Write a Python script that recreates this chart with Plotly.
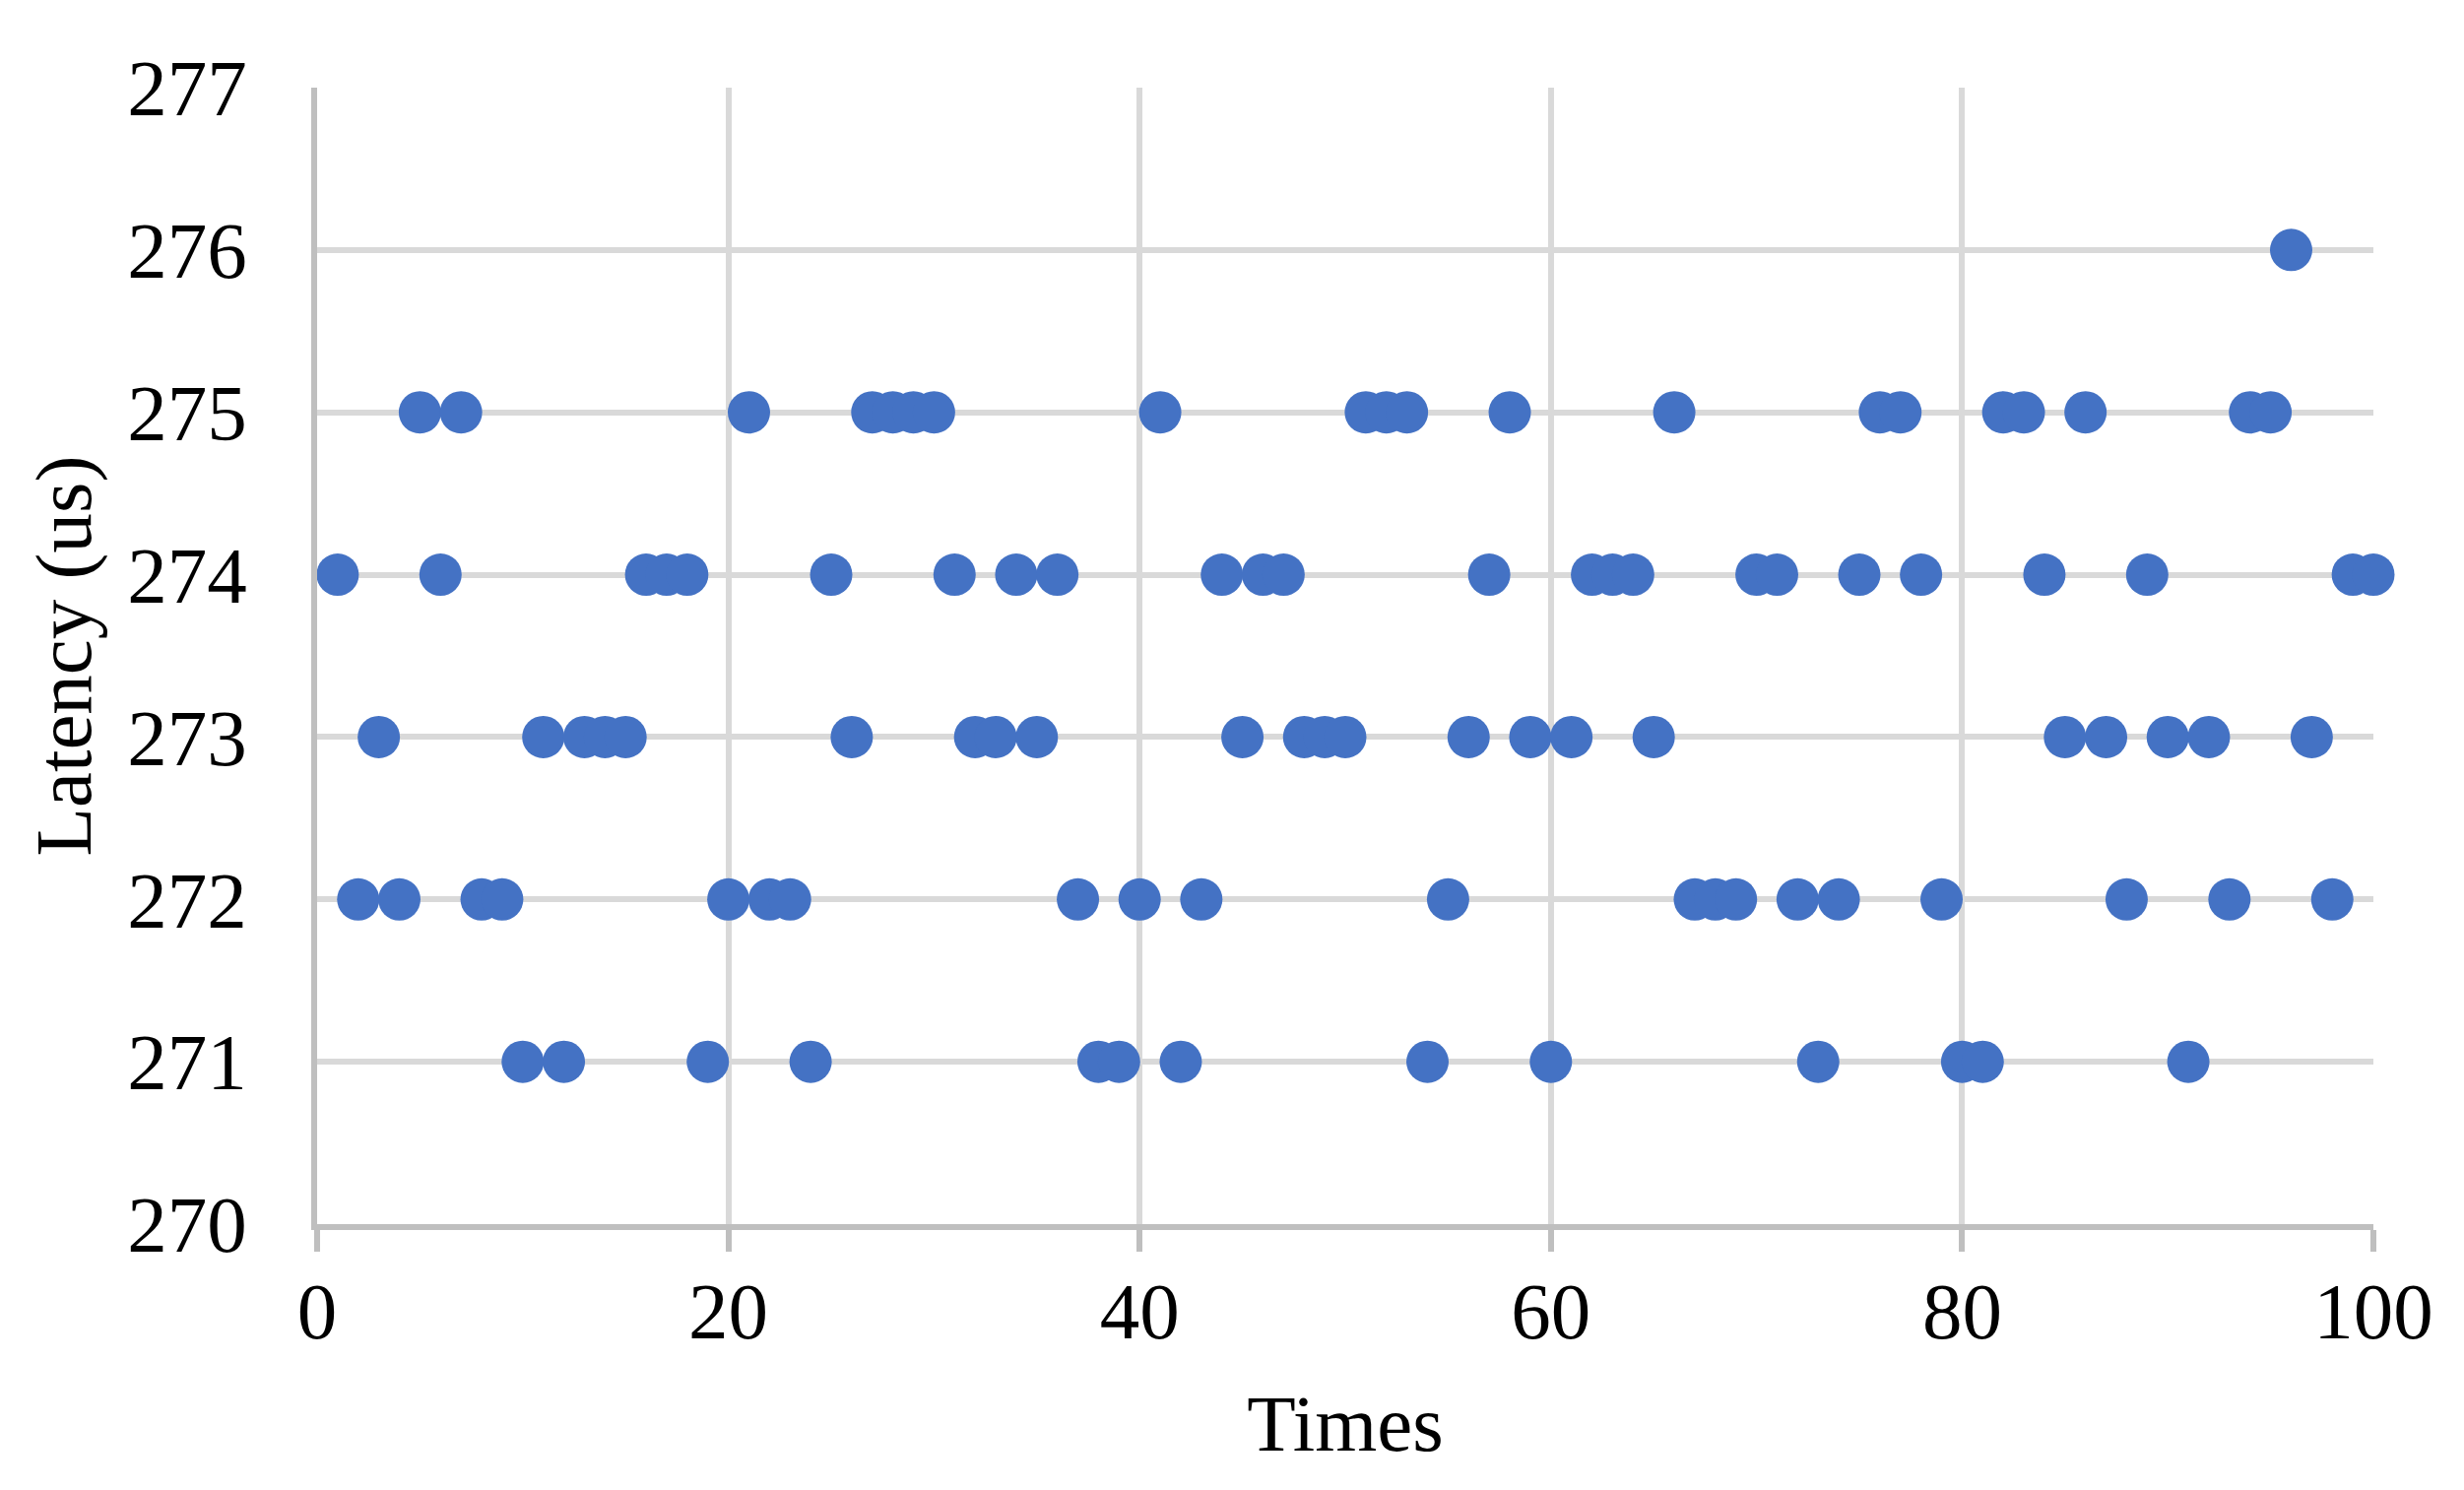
import plotly.graph_objects as go

times = list(range(1, 101))
latency = [
    274, 272, 273, 272, 275, 274, 275, 272, 272, 271,
    273, 271, 273, 273, 273, 274, 274, 274, 271, 272,
    275, 272, 272, 271, 274, 273, 275, 275, 275, 275,
    274, 273, 273, 274, 273, 274, 272, 271, 271, 272,
    275, 271, 272, 274, 273, 274, 274, 273, 273, 273,
    275, 275, 275, 271, 272, 273, 274, 275, 273, 271,
    273, 274, 274, 274, 273, 275, 272, 272, 272, 274,
    274, 272, 271, 272, 274, 275, 275, 274, 272, 271,
    271, 275, 275, 274, 273, 275, 273, 272, 274, 273,
    271, 273, 272, 275, 275, 276, 273, 272, 274, 274,
]
x_ticks = [0, 20, 40, 60, 80, 100]
y_ticks = [270, 271, 272, 273, 274, 275, 276, 277]

FONT = "Liberation Serif, Times New Roman, serif"

fig = go.Figure(
    go.Scatter(
        x=times,
        y=latency,
        mode="markers",
        marker=dict(size=43, color="#4472C4", line=dict(width=0)),
        cliponaxis=False,
        showlegend=False,
    )
)

fig.update_layout(
    width=2502,
    height=1513,
    margin=dict(l=314, r=100, t=81, b=278),
    paper_bgcolor="white",
    plot_bgcolor="white",
    font=dict(family=FONT, size=81, color="black"),
)

fig.update_xaxes(
    range=[0, 100],
    tickvals=x_ticks,
    ticktext=[str(v) for v in x_ticks],
    showgrid=True,
    gridcolor="#D9D9D9",
    gridwidth=6,
    showline=True,
    linecolor="#BFBFBF",
    linewidth=6,
    ticks="outside",
    ticklen=22,
    tickwidth=6,
    tickcolor="#BFBFBF",
    ticklabelstandoff=-9,
    zeroline=False,
    title=dict(text="Times", font=dict(family=FONT, size=81), standoff=42),
    automargin=False,
)

fig.update_yaxes(
    range=[270, 277],
    tickvals=y_ticks,
    ticktext=[str(v) for v in y_ticks],
    showgrid=True,
    gridcolor="#D9D9D9",
    gridwidth=6,
    showline=True,
    linecolor="#BFBFBF",
    linewidth=6,
    ticks="",
    ticklabelstandoff=49,
    zeroline=False,
    title=dict(text="Latency (us)", font=dict(family=FONT, size=81), standoff=12),
    automargin=False,
)

fig.write_html("out.html")
